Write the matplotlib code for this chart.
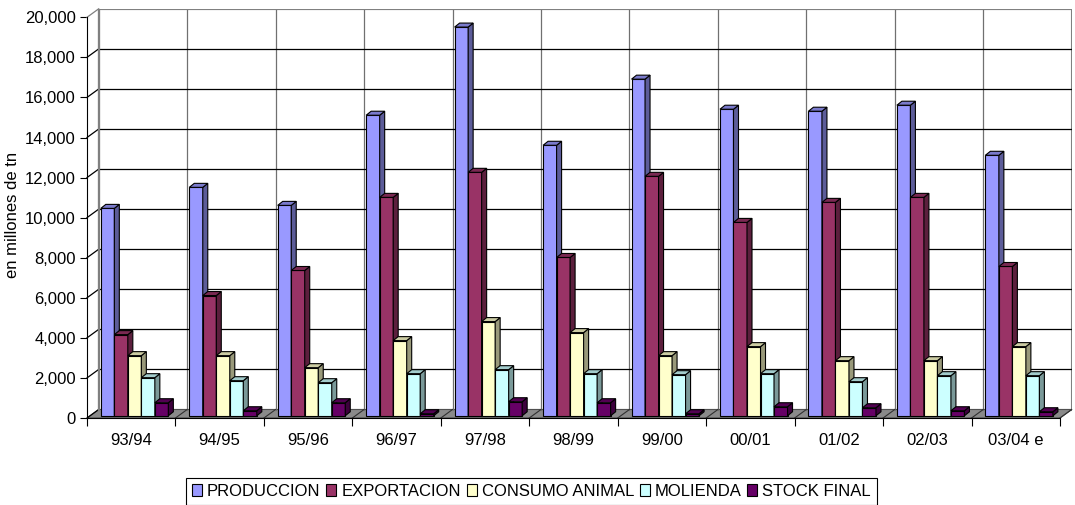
import matplotlib
matplotlib.use("Agg")
import matplotlib.pyplot as plt
from matplotlib import font_manager
from matplotlib.patches import Polygon, Patch
from matplotlib.ticker import FuncFormatter, FixedLocator
import numpy as np

# ---------------- data ----------------
categories = ['93/94', '94/95', '95/96', '96/97', '97/98', '98/99',
              '99/00', '00/01', '01/02', '02/03', '03/04 e']
produccion = [10350, 11400, 10500, 15000, 19400, 13500, 16800, 15300, 15200, 15500, 13000]
exportacion = [4050, 6000, 7250, 10900, 12150, 7900, 11950, 9650, 10650, 10900, 7450]
consumo_animal = [3000, 3000, 2400, 3750, 4700, 4150, 3000, 3450, 2750, 2750, 3450]
molienda = [1900, 1750, 1650, 2100, 2300, 2100, 2050, 2100, 1700, 2000, 2000]
stock_final = [650, 250, 650, 100, 700, 650, 100, 450, 400, 250, 200]
series_names = ['PRODUCCION', 'EXPORTACION', 'CONSUMO ANIMAL', 'MOLIENDA', 'STOCK FINAL']
series_values = [produccion, exportacion, consumo_animal, molienda, stock_final]
series_colors = ['#9999FF', '#993366', '#FFFFCC', '#CCFFFF', '#660066']
y_max = 20000
y_step = 2000
y_label = 'en millones de tn'

# ---------------- fonts ----------------
names = {f.name for f in font_manager.fontManager.ttflist}
FONT, FS, STRETCH = 'Liberation Sans', 12.0, 'normal'
for cand in ['Liberation Sans Narrow', 'Arial Narrow', 'Arimo Narrow']:
    if cand in names:
        FONT, FS = cand, 13.3
        break
plt.rcParams['font.family'] = [FONT, 'DejaVu Sans']

# ---------------- geometry (pixels) ----------------
FW, FH = 1075, 505
X0, Y0 = 87, 418            # front origin (image px, y down)
CAT_PX = 973 / len(categories)
VAL_PX = 400.7 / y_max
WALL_DX, WALL_DY = 11.7, 8.5  # depth of the chart box
BAR_DX, BAR_DY = 5.0, 4.0     # depth of each bar

ncat = len(categories)
wall_dx = WALL_DX / CAT_PX
wall_dy = WALL_DY / VAL_PX
bar_dx = BAR_DX / CAT_PX
bar_dy = BAR_DY / VAL_PX
ox = (WALL_DX - BAR_DX) / 2 / CAT_PX
oy = (WALL_DY - BAR_DY) / 2 / VAL_PX

fig = plt.figure(figsize=(FW / 100, FH / 100), dpi=100)
ax_w_px = ncat * CAT_PX + WALL_DX
ax_h_px = y_max * VAL_PX + WALL_DY
ax = fig.add_axes([X0 / FW, (FH - Y0) / FH, ax_w_px / FW, ax_h_px / FH])
ax.set_xlim(0, ncat + wall_dx)
ax.set_ylim(0, y_max + wall_dy)
ax.patch.set_visible(False)

# ---------------- walls ----------------
gray = '#808080'
ax.add_patch(Polygon([(wall_dx, wall_dy), (ncat + wall_dx, wall_dy),
                      (ncat + wall_dx, y_max + wall_dy), (wall_dx, y_max + wall_dy)],
                     closed=True, facecolor='white', edgecolor=gray, lw=1.5, zorder=1))
ax.add_patch(Polygon([(0, 0), (ncat, 0), (ncat + wall_dx, wall_dy), (wall_dx, wall_dy)],
                     closed=True, facecolor='#8a8a8a', edgecolor='#505050', lw=0.8, zorder=2))
yticks = np.arange(0, y_max + 1, y_step)
for v in yticks:
    if v > 0:
        ax.plot([wall_dx, ncat + wall_dx], [v + wall_dy, v + wall_dy],
                color='black' if v < y_max else gray, lw=0.9 if v < y_max else 1.5,
                zorder=3, solid_capstyle='butt')
    ax.plot([0, wall_dx], [v, v + wall_dy], color='black' if v < y_max else gray,
            lw=0.9, zorder=3, clip_on=False)
for k in range(1, ncat):
    ax.plot([k + wall_dx, k + wall_dx], [wall_dy, y_max + wall_dy],
            color='#707070', lw=0.9, zorder=2.5)
for k in range(1, ncat + 1):
    ax.plot([k, k + wall_dx], [0, wall_dy], color='#303030', lw=0.8, zorder=3, clip_on=False)
ax.plot([wall_dx, wall_dx], [wall_dy, y_max + wall_dy], color=gray, lw=1.6, zorder=3)

# ---------------- bars ----------------
nser = len(series_values)
bw = 0.1527
g0 = (1 - nser * bw) / 2
xs = np.arange(ncat)


def shade(c, f):
    r, g, b = matplotlib.colors.to_rgb(c)
    return (r * f, g * f, b * f)


for j, (vals, col) in enumerate(zip(series_values, series_colors)):
    z = 10 + j
    bars = ax.bar(xs + g0 + ox + j * bw, vals, width=bw, bottom=oy, align='edge',
                  color=col, edgecolor='black', linewidth=0.8, zorder=z)
    for r in bars:
        x, y, w, h = r.get_x(), r.get_y(), r.get_width(), r.get_height()
        top = y + h
        ax.add_patch(Polygon([(x + w, y), (x + w, top), (x + w + bar_dx, top + bar_dy),
                              (x + w + bar_dx, y + bar_dy)], closed=True,
                             facecolor=shade(col, 0.6), edgecolor='black', lw=0.8, zorder=z))
        ax.add_patch(Polygon([(x, top), (x + w, top), (x + w + bar_dx, top + bar_dy),
                              (x + bar_dx, top + bar_dy)], closed=True,
                             facecolor=shade(col, 0.8), edgecolor='black', lw=0.8, zorder=z))

# ---------------- axes ----------------
for s in ['top', 'right']:
    ax.spines[s].set_visible(False)
ax.spines['left'].set_bounds(0, y_max)
ax.spines['bottom'].set_bounds(0, ncat)
for s in ['left', 'bottom']:
    ax.spines[s].set_linewidth(0.8)
    ax.spines[s].set_color('black')
    ax.spines[s].set_zorder(20)

ax.yaxis.set_major_locator(FixedLocator(yticks))
ax.yaxis.set_major_formatter(FuncFormatter(lambda v, p: f'{v:,.0f}'))
ax.tick_params(axis='y', direction='out', length=5, width=0.8, pad=3, labelsize=FS,
               colors='black')
ax.set_xticks(np.arange(0, ncat + 1))
ax.set_xticklabels([''] * (ncat + 1))
ax.set_xticks(xs + 0.5, minor=True)
ax.set_xticklabels(categories, minor=True)
ax.tick_params(axis='x', which='major', direction='out', length=5.5, width=0.8)
ax.tick_params(axis='x', which='minor', length=0, pad=11, labelsize=FS)

fig.text(13 / FW, 1 - 215 / FH, y_label, rotation=90, ha='center', va='center',
         fontsize=FS)

# ---------------- legend ----------------
handles = [Patch(facecolor=c, edgecolor='black', lw=0.8) for c in series_colors]
leg = fig.legend(handles, series_names, loc='upper left',
                 bbox_to_anchor=(186 / FW, 1 - 478 / FH), ncol=5, fontsize=FS,
                 frameon=True, fancybox=False, framealpha=1, edgecolor='black',
                 handlelength=0.6, handleheight=0.7, handletextpad=0.3,
                 columnspacing=0.35, borderpad=0.35, borderaxespad=0)
leg.get_frame().set_linewidth(0.8)

fig.savefig('out.png', dpi=100)
